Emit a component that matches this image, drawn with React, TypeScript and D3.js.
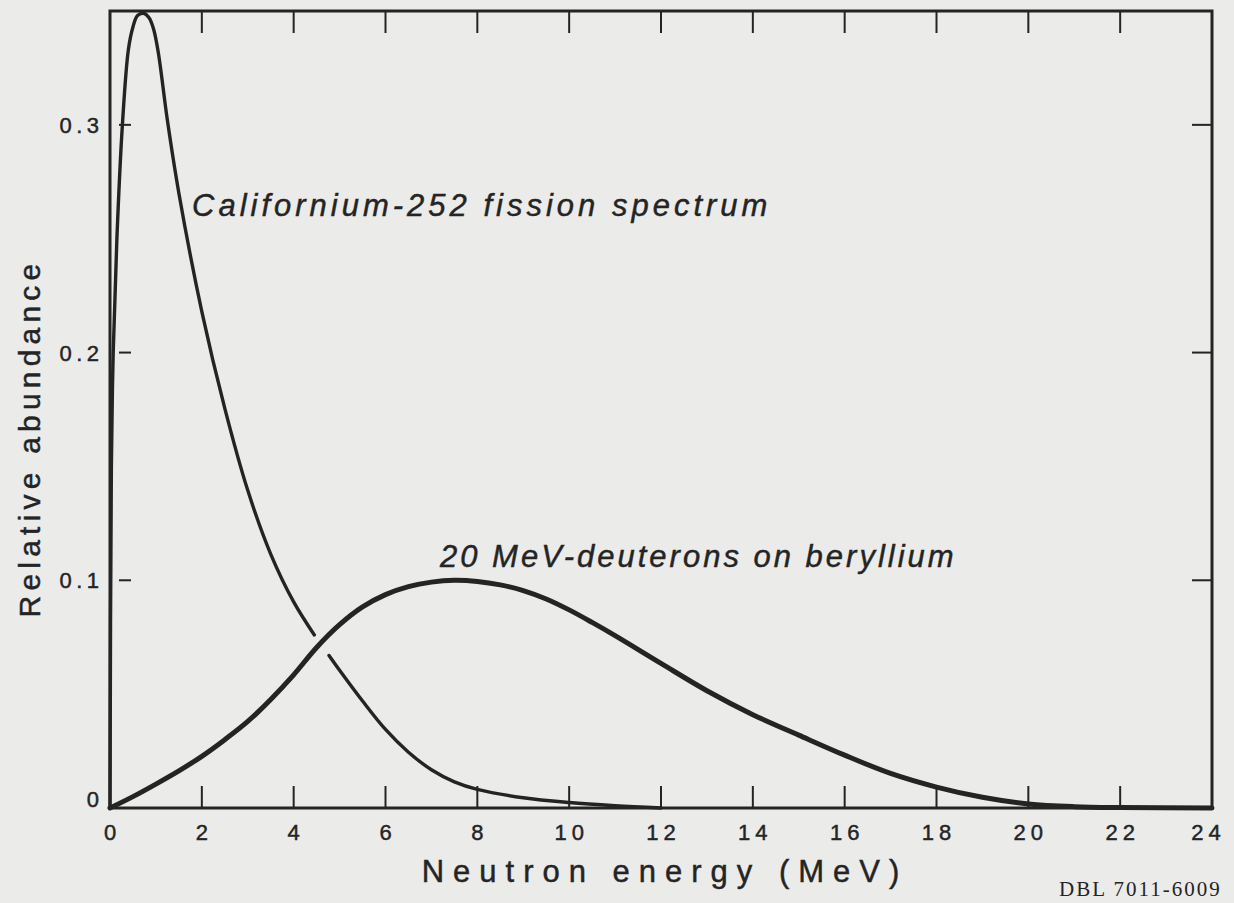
import React from "react";
import * as d3 from "d3";

// Californium-252 fission spectrum (MeV, relative abundance), before the crossing gap
const cfEnergy = [0, 0.03, 0.07, 0.15, 0.27, 0.4, 0.5, 0.6, 0.73, 0.85, 0.95, 1.05, 1.25, 1.5, 2, 2.5, 3, 3.5, 4, 4.45];
const cfValue = [0, 0.15, 0.2, 0.25, 0.3, 0.333, 0.343, 0.348, 0.349, 0.347, 0.342, 0.332, 0.302, 0.27, 0.218, 0.1755, 0.1395, 0.1115, 0.0905, 0.076];
// continuation after the crossing gap
const cfEnergy2 = [4.77, 5, 5.5, 6, 6.5, 7, 7.5, 8, 9, 10, 11, 12];
const cfValue2 = [0.067, 0.0605, 0.047, 0.0345, 0.0245, 0.0168, 0.0115, 0.0082, 0.0045, 0.0024, 0.001, 0];

// 20 MeV deuterons on beryllium
const dEnergy = [0, 0.5, 1, 1.5, 2, 2.5, 3, 3.5, 4, 4.5, 5, 5.5, 6, 6.5, 7, 7.5, 8, 8.5, 9, 9.5, 10, 10.5, 11, 12, 13, 14, 15, 16, 17, 18, 19, 20, 21, 22, 24];
const dValue = [0, 0.005, 0.0105, 0.0163, 0.0227, 0.03, 0.038, 0.0477, 0.0585, 0.0705, 0.0805, 0.0883, 0.0937, 0.0972, 0.0992, 0.1, 0.0995, 0.098, 0.0955, 0.0918, 0.087, 0.0815, 0.0757, 0.0635, 0.0515, 0.041, 0.032, 0.0232, 0.0152, 0.0092, 0.0047, 0.0018, 0.0006, 0.0002, 0];

const xTicks = [0, 2, 4, 6, 8, 10, 12, 14, 16, 18, 20, 22, 24];
const yTicks = [0, 0.1, 0.2, 0.3];
const yTickLabels = ["0", "0.1", "0.2", "0.3"];

const W = 1234;
const H = 903;
const L = 110, T = 11, R = 1212, B = 808;
const INK = "#242424";
const FONT = "'Liberation Sans', Arial, sans-serif";

export default function App() {
  const x = d3.scaleLinear().domain([0, 24]).range([L, R]);
  const y = d3.scaleLinear().domain([0, 0.35]).range([B, T]);
  const line = d3
    .line<[number, number]>()
    .x((d) => x(d[0]))
    .y((d) => y(d[1]))
    .curve(d3.curveCatmullRom.alpha(0.5));
  const cf1 = line(cfEnergy.map((e, i) => [e, cfValue[i]]) as [number, number][]) || "";
  const cf2 = line(cfEnergy2.map((e, i) => [e, cfValue2[i]]) as [number, number][]) || "";
  const dd = line(dEnergy.map((e, i) => [e, dValue[i]]) as [number, number][]) || "";
  const inner = xTicks.filter((t) => t > 0 && t < 24);
  const innerY = yTicks.filter((t) => t > 0);
  const textInk = { fill: INK, stroke: INK, strokeWidth: 0.45 };

  return (
    <svg width={W} height={H} style={{ position: "absolute", left: 0, top: 0 }} fontFamily={FONT}>
      <rect x={0} y={0} width={W} height={H} fill="#ebebea" />
      {/* ticks */}
      {inner.map((t) => (
        <g key={"xt" + t} stroke={INK} strokeWidth={2}>
          <line x1={x(t)} x2={x(t)} y1={T} y2={T + 22} />
          <line x1={x(t)} x2={x(t)} y1={B} y2={B - 22} />
        </g>
      ))}
      {innerY.map((t) => (
        <g key={"yt" + t} stroke={INK} strokeWidth={2}>
          <line x1={L + 9} x2={L + 21} y1={y(t)} y2={y(t)} />
          <line x1={R} x2={R - 20} y1={y(t)} y2={y(t)} />
        </g>
      ))}
      {/* curves */}
      <path d={cf1} fill="none" stroke={INK} strokeWidth={3.4} strokeLinecap="round" />
      <path d={cf2} fill="none" stroke={INK} strokeWidth={3.4} strokeLinecap="round" />
      <path d={dd} fill="none" stroke={INK} strokeWidth={5} strokeLinecap="round" />
      {/* frame */}
      <rect x={L} y={T} width={R - L} height={B - T} fill="none" stroke={INK} strokeWidth={3} />
      {/* x tick labels */}
      {xTicks.map((t) => (
        <text
          key={"xl" + t}
          x={(t === 24 ? x(t) - 6 : x(t)) + 2.5}
          y={840}
          textAnchor="middle"
          fontSize={22}
          {...textInk}
          style={{ letterSpacing: "5px" }}
        >
          {String(t)}
        </text>
      ))}
      {/* y tick labels */}
      {yTicks.map((t, i) => (
        <text
          key={"yl" + t}
          x={99 + 4.5}
          y={y(t) + (t === 0 ? -1 : 8)}
          textAnchor="end"
          fontSize={22}
          {...textInk}
          style={{ letterSpacing: "4.5px" }}
        >
          {yTickLabels[i]}
        </text>
      ))}
      {/* axis titles */}
      <text x={665} y={882} textAnchor="middle" fontSize={31} {...textInk} style={{ letterSpacing: "9px" }}>
        Neutron energy (MeV)
      </text>
      <text
        transform="translate(40,438) rotate(-90)"
        textAnchor="middle"
        fontSize={30}
        {...textInk}
        style={{ letterSpacing: "5.2px" }}
      >
        Relative abundance
      </text>
      {/* curve labels */}
      <text x={192} y={216} fontSize={31} fontStyle="italic" {...textInk} style={{ letterSpacing: "4px" }}>
        Californium-252 fission spectrum
      </text>
      <text x={440} y={567} fontSize={31} fontStyle="italic" {...textInk} style={{ letterSpacing: "3px" }}>
        20 MeV-deuterons on beryllium
      </text>
      {/* archive code */}
      <text x={1059} y={896} fontSize={21} fontFamily="'Liberation Serif', serif" fill={INK} style={{ letterSpacing: "2px" }}>
        DBL 7011-6009
      </text>
    </svg>
  );
}
